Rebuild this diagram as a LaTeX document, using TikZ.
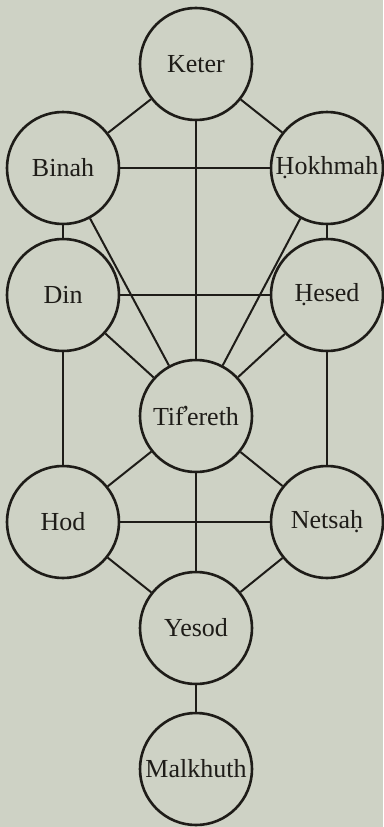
\documentclass[tikz,border=0pt]{standalone}
\usepackage{fontspec}
\setmainfont{Liberation Serif}
\definecolor{bgc}{RGB}{206,210,197}
\definecolor{ink}{RGB}{30,28,24}
\begin{document}
\begin{tikzpicture}[x=1pt,y=-1pt,
  sefira/.style={circle,draw=ink,line width=2.6pt,minimum size=112pt,inner sep=0pt,
    text=ink,font=\fontsize{26}{30}\selectfont},
  path/.style={draw=ink,line width=2pt}]
\fill[bgc] (0,0) rectangle (383,827);
\useasboundingbox (0,0) rectangle (383,827);
\node[sefira] (keter) at (196,64) {Keter};
\node[sefira] (binah) at (63,168) {Binah};
\node[sefira] (hokhmah) at (327,168) {Ḥokhmah};
\node[sefira] (din) at (63,295) {Din};
\node[sefira] (hesed) at (327,295) {Ḥesed};
\node[sefira] (tif) at (196,416) {Tif\kern-2.5pt\raisebox{2pt}{’}\kern-3pt ereth};
\node[sefira] (hod) at (63,522) {Hod};
\node[sefira] (netsah) at (327,522) {Netsaḥ};
\node[sefira] (yesod) at (196,628) {Yesod};
\node[sefira] (malkhuth) at (196,769) {Malkhuth};
\draw[path] (keter) -- (binah);
\draw[path] (keter) -- (hokhmah);
\draw[path] (keter) -- (tif);
\draw[path] (binah) -- (hokhmah);
\draw[path] (binah) -- (din);
\draw[path] (hokhmah) -- (hesed);
\draw[path] (binah) -- (tif);
\draw[path] (hokhmah) -- (tif);
\draw[path] (din) -- (hesed);
\draw[path] (din) -- (tif);
\draw[path] (hesed) -- (tif);
\draw[path] (din) -- (hod);
\draw[path] (hesed) -- (netsah);
\draw[path] (tif) -- (hod);
\draw[path] (tif) -- (netsah);
\draw[path] (hod) -- (netsah);
\draw[path] (tif) -- (yesod);
\draw[path] (hod) -- (yesod);
\draw[path] (netsah) -- (yesod);
\draw[path] (yesod) -- (malkhuth);
\end{tikzpicture}
\end{document}
